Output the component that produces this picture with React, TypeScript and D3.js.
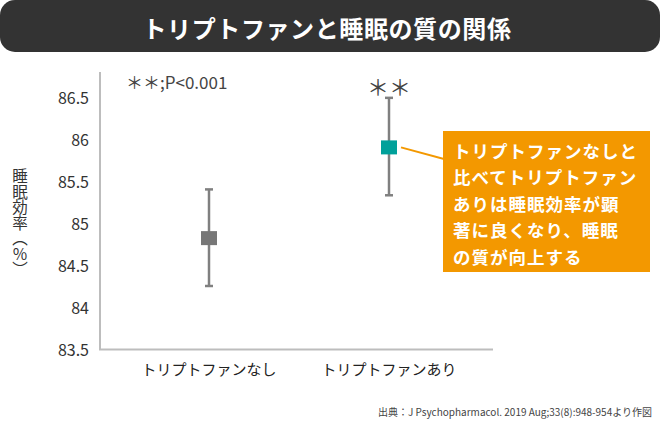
import * as d3 from "d3";

const categories = ["トリプトファンなし", "トリプトファンあり"];
const means = [84.82, 85.9];
const upper = [85.4, 86.49];
const lower = [84.25, 85.33];
const markerColors = ["#777777", "#00a09a"];
const yTicks = [83.5, 84, 84.5, 85, 85.5, 86, 86.5];
const calloutLines = [
  "トリプトファンなしと",
  "比べてトリプトファン",
  "ありは睡眠効率が顕",
  "著に良くなり、睡眠",
  "の質が向上する",
];

const W = 660;
const H = 422;
const FONT = "'Noto Sans CJK JP', 'Noto Sans', sans-serif";

export default function App() {
  const y = d3.scaleLinear().domain([83.5, 86.5]).range([349, 97]);
  const x = d3.scalePoint<string>().domain(categories).range([209, 389]);
  const axisLeft = 100;
  const axisRight = 493;

  const x2 = x(categories[1])!;
  const y2 = y(means[1]);

  return (
    <svg
      width={W}
      height={H}
      style={{ position: "absolute", left: 0, top: 0, fontFamily: FONT }}
    >
      <rect width={W} height={H} fill="#fff" />
      {/* title bar */}
      <rect x={0} y={0} width={W} height={52} rx={15} fill="#333333" />
      <text
        x={W / 2 - 3}
        y={27}
        textAnchor="middle"
        dominantBaseline="central"
        fill="#fff"
        fontSize={24}
        fontWeight={700}
        letterSpacing={0.6}
      >
        トリプトファンと睡眠の質の関係
      </text>

      {/* axes */}
      <line x1={axisLeft} x2={axisLeft} y1={72} y2={350} stroke="#bdbdbd" strokeWidth={2} />
      <line x1={axisLeft - 1} x2={axisRight} y1={349.5} y2={349.5} stroke="#bdbdbd" strokeWidth={2} />
      {yTicks.map((t) => (
        <text
          key={t}
          x={89}
          y={y(t)}
          textAnchor="end"
          dominantBaseline="central"
          fontSize={16}
          fill="#333"
        >
          {d3.format("~g")(t)}
        </text>
      ))}
      <text
        x={20}
        y={223}
        fontSize={15.5}
        fill="#333"
        textAnchor="middle"
        style={{ writingMode: "vertical-rl" }}
      >
        睡眠効率（％）
      </text>

      {/* category labels */}
      {categories.map((c) => (
        <text
          key={c}
          x={x(c)}
          y={368}
          textAnchor="middle"
          dominantBaseline="central"
          fontSize={15}
          fill="#222"
        >
          {c}
        </text>
      ))}

      {/* error bars and markers */}
      {categories.map((c, i) => {
        const cx = x(c)!;
        return (
          <g key={c}>
            <line x1={cx} x2={cx} y1={y(upper[i])} y2={y(lower[i])} stroke="#808080" strokeWidth={2.5} />
            <line x1={cx - 4} x2={cx + 4} y1={y(upper[i])} y2={y(upper[i])} stroke="#808080" strokeWidth={2.5} />
            <line x1={cx - 4} x2={cx + 4} y1={y(lower[i])} y2={y(lower[i])} stroke="#808080" strokeWidth={2.5} />
            <rect x={cx - 8} y={y(means[i]) - 7} width={16} height={14} fill={markerColors[i]} />
          </g>
        );
      })}

      {/* significance */}
      <text x={126} y={81} dominantBaseline="central" fontSize={17} fill="#444">
        ＊＊;P&lt;0.001
      </text>
      <text x={x2} y={85} textAnchor="middle" dominantBaseline="central" fontSize={22} fill="#444">
        ＊＊
      </text>

      {/* callout */}
      <line x1={x2 + 12} y1={y2} x2={444} y2={159} stroke="#f39800" strokeWidth={2} />
      <rect x={443} y={131} width={207} height={141} fill="#f39800" />
      {calloutLines.map((l, i) => (
        <text
          key={i}
          x={453}
          y={150 + i * 26.5}
          dominantBaseline="central"
          fontSize={17.5}
          fontWeight={700}
          fill="#fff"
          letterSpacing={1}
        >
          {l}
        </text>
      ))}

      {/* source */}
      <text x={652} y={411} textAnchor="end" dominantBaseline="central" fontSize={10} fill="#444">
        出典：J Psychopharmacol. 2019 Aug;33(8):948-954より作図
      </text>
    </svg>
  );
}
